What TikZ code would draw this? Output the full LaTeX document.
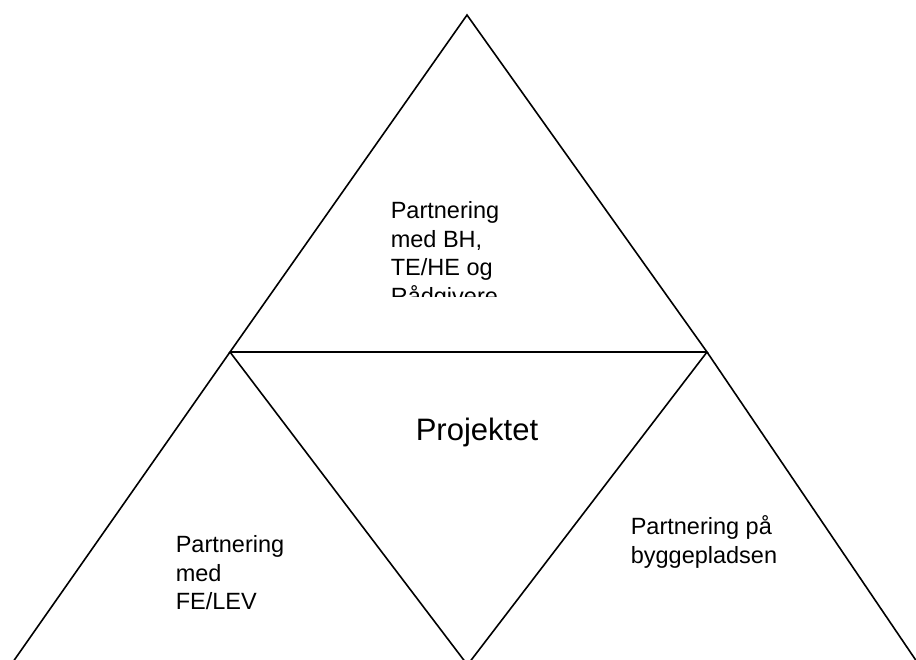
\documentclass[tikz,border=0pt]{standalone}
\usepackage{fontspec}
\setmainfont{Liberation Sans}
\usetikzlibrary{calc}
\begin{document}
\begin{tikzpicture}[x=1pt,y=-1pt,line width=1.6pt,
	feltlabel/.style={anchor=north west,inner sep=0pt,align=left,
		font=\fontsize{23.5}{28.5}\selectfont}]
	\useasboundingbox (0,0) rectangle (916,659);
	\clip (0,0) rectangle (916,659);
	% hjoerner
	\coordinate (top) at (467,15);
	\coordinate (vmidt) at (230,352);
	\coordinate (hmidt) at (707,352);
	\coordinate (vbund) at (15,659);
	\coordinate (hbund) at (915,659);
	\coordinate (bundv) at (463,659);
	\coordinate (bundh) at (472,659);
	\draw (top) -- (vmidt) -- (hmidt) -- cycle;
	\draw (vmidt) -- ($(vmidt)!1.05!(vbund)$);
	\draw (vmidt) -- ($(vmidt)!1.05!(bundv)$);
	\draw (hmidt) -- ($(hmidt)!1.05!(bundh)$);
	\draw (hmidt) -- ($(hmidt)!1.05!(hbund)$);
	% tekster
	\begin{scope}
		\clip (380,150) rectangle (540,296);
		\node[feltlabel] (bh) at (390,201) {Partnering\\med BH,\\TE/HE og\\Rådgivere};
	\end{scope}
	\node[anchor=base west,inner sep=0pt,font=\fontsize{31}{36}\selectfont] (projekt) at (415,440) {Projektet};
	\node[feltlabel] (fe) at (175,535) {Partnering\\med\\FE/LEV};
	\node[feltlabel] (plads) at (630,515) {Partnering på\\byggepladsen};
\end{tikzpicture}
\end{document}
